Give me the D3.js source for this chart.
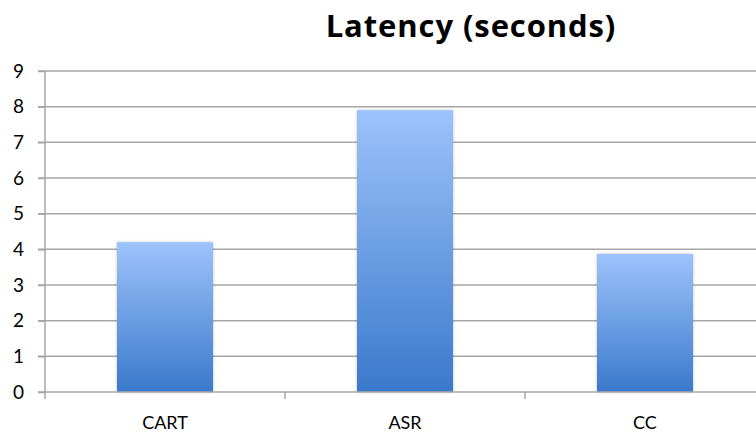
<!DOCTYPE html>
<html>
<head>
<meta charset="utf-8">
<script src="https://cdn.jsdelivr.net/npm/d3@7"></script>
<style>
  body { margin: 0; background: #fff; }
  svg { display: block; font-family: Lato, "Open Sans", sans-serif; }
</style>
</head>
<body>
<div id="chart"></div>
<script>
const categories = ["CART", "ASR", "CC"];
const latency = [4.2, 7.9, 3.87];
const yTicks = [0, 1, 2, 3, 4, 5, 6, 7, 8, 9];

const width = 756;
const height = 434;

const svg = d3.select("#chart")
  .append("svg")
  .attr("width", width)
  .attr("height", height);

// plot box runs off the right edge, like the original
const xScale = d3.scaleBand()
  .domain(categories)
  .range([45, 765])
  .paddingInner(0.6)
  .paddingOuter(0.3);

const yScale = d3.scaleLinear()
  .domain([0, 9])
  .range([392, 71]);

const grad = svg.append("defs")
  .append("linearGradient")
  .attr("id", "barGrad")
  .attr("x1", 0).attr("y1", 0)
  .attr("x2", 0).attr("y2", 1);
grad.append("stop").attr("offset", "0%").attr("stop-color", "#9cc3fb");
grad.append("stop").attr("offset", "100%").attr("stop-color", "#3b79cb");

// gridlines
svg.append("g")
  .selectAll("line")
  .data(yTicks.filter(d => d > 0))
  .enter()
  .append("line")
  .attr("x1", 38)
  .attr("x2", width)
  .attr("y1", d => yScale(d))
  .attr("y2", d => yScale(d))
  .attr("stroke", "#a6a6a6")
  .attr("stroke-width", 1.5);

// bars
svg.append("g")
  .selectAll("rect")
  .data(latency)
  .enter()
  .append("rect")
  .attr("x", (d, i) => xScale(categories[i]))
  .attr("y", d => yScale(d))
  .attr("width", xScale.bandwidth())
  .attr("height", d => yScale(0) - yScale(d))
  .attr("fill", "url(#barGrad)")
  .style("filter", "drop-shadow(0px 0px 1.5px rgba(0,0,0,0.25))");

// y axis
const yAxis = svg.append("g")
  .attr("transform", "translate(45,0)")
  .call(d3.axisLeft(yScale).tickValues(yTicks).tickSize(7).tickPadding(14));
yAxis.selectAll("line").attr("stroke", "#a6a6a6").attr("stroke-width", 1.5);
yAxis.select(".domain").remove();
yAxis.selectAll("text")
  .attr("font-size", 19)
  .attr("font-family", "Lato, sans-serif")
  .attr("fill", "#000");

svg.append("line")
  .attr("x1", 45).attr("x2", 45)
  .attr("y1", yScale(9)).attr("y2", yScale(0) + 7)
  .attr("stroke", "#a6a6a6")
  .attr("stroke-width", 1.5);

// x axis baseline and boundary ticks
svg.append("line")
  .attr("x1", 38).attr("x2", width)
  .attr("y1", yScale(0)).attr("y2", yScale(0))
  .attr("stroke", "#a6a6a6")
  .attr("stroke-width", 1.5);

const step = xScale.step();
svg.append("g")
  .selectAll("line")
  .data(categories.slice(1))
  .enter()
  .append("line")
  .attr("x1", d => xScale(d) - step * 0.3)
  .attr("x2", d => xScale(d) - step * 0.3)
  .attr("y1", yScale(0))
  .attr("y2", yScale(0) + 7)
  .attr("stroke", "#a6a6a6")
  .attr("stroke-width", 1.5);

svg.append("g")
  .selectAll("text")
  .data(categories)
  .enter()
  .append("text")
  .attr("x", d => xScale(d) + xScale.bandwidth() / 2)
  .attr("y", 429)
  .attr("text-anchor", "middle")
  .attr("font-size", 18)
  .text(d => d);

// title
svg.append("text")
  .attr("x", 471)
  .attr("y", 37)
  .attr("text-anchor", "middle")
  .attr("font-family", "'Open Sans', sans-serif")
  .attr("font-size", 31)
  .attr("letter-spacing", 0.9)
  .attr("font-weight", "bold")
  .text("Latency (seconds)");
</script>
</body>
</html>
